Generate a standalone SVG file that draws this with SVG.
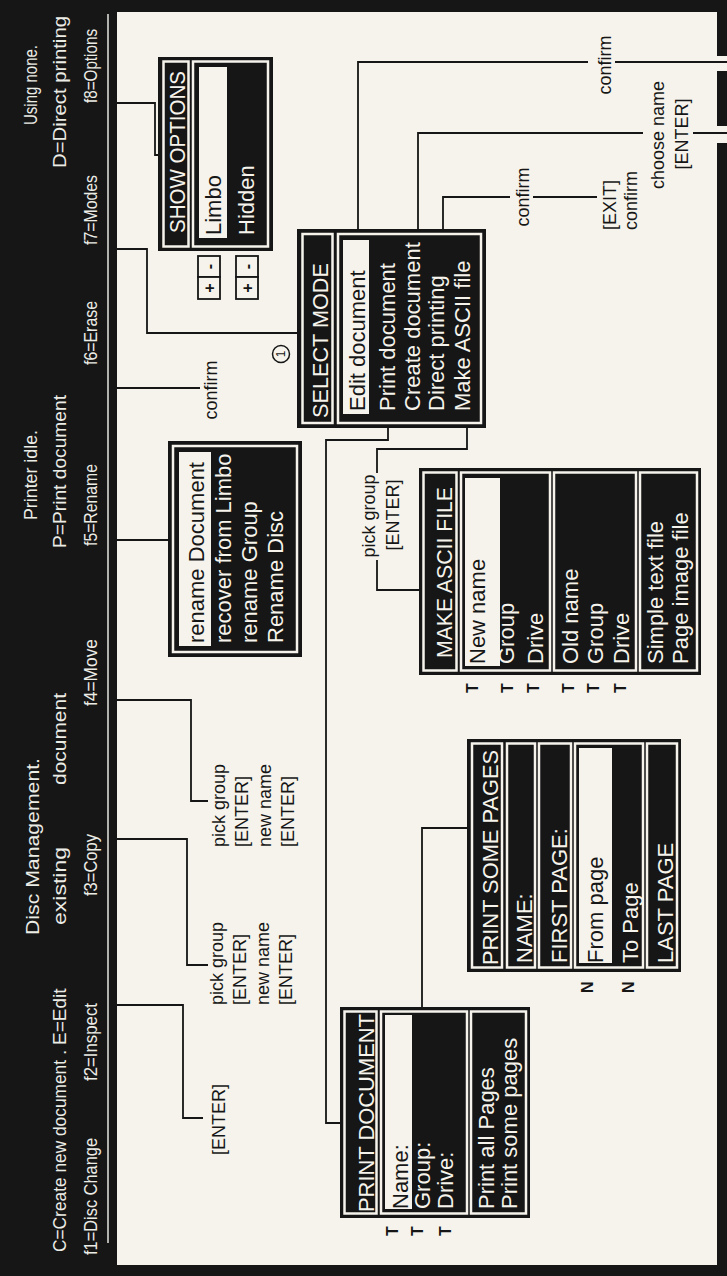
<svg xmlns="http://www.w3.org/2000/svg" width="727" height="1276" viewBox="0 0 727 1276">
<style>
.bg{fill:#161616}
.paper{fill:#f5f3eb}
.hd{font-family:"Liberation Sans",Arial,sans-serif;font-size:19px;fill:#ecece6}
.box{fill:#161616}
.frm{fill:none;stroke:#f5f3eb;stroke-width:2.5}
.hl{fill:#f5f3eb}
.tw{font-family:"Liberation Sans",Arial,sans-serif;font-size:22px;fill:#f5f3eb}
.tb{font-family:"Liberation Sans",Arial,sans-serif;font-size:22px;fill:#161616}
.lb{font-family:"Liberation Sans",Arial,sans-serif;font-size:18px;fill:#161616}
.mk{font-family:"Liberation Sans",Arial,sans-serif;font-size:16px;font-weight:bold;fill:#161616}
.pm{fill:#f5f3eb;stroke:#161616;stroke-width:1.8}
.pmt{font-family:"Liberation Sans",Arial,sans-serif;font-size:16px;font-weight:bold;fill:#161616}
.ln{fill:none;stroke:#161616;stroke-width:1.8}
</style>
<rect class="bg" width="727" height="1276"/>
<rect class="paper" x="117" y="12" width="600" height="1253"/>
<rect class="paper" x="716" y="56" width="11" height="15"/>
<rect class="paper" x="716" y="126" width="11" height="17"/>
<line x1="108" y1="14" x2="108" y2="1243" stroke="#e6e6e0" stroke-width="1.5"/>

<g id="header">
<text class="hd" transform="translate(37 125) rotate(-90)" textLength="80" lengthAdjust="spacingAndGlyphs">Using none.</text>
<text class="hd" transform="translate(37 520) rotate(-90)" textLength="90" lengthAdjust="spacingAndGlyphs">Printer idle.</text>
<text class="hd" transform="translate(39 935) rotate(-90)" textLength="177" lengthAdjust="spacingAndGlyphs">Disc Management.</text>
<text class="hd" transform="translate(66 168) rotate(-90)" textLength="152" lengthAdjust="spacingAndGlyphs">D=Direct printing</text>
<text class="hd" transform="translate(66 548) rotate(-90)" textLength="153" lengthAdjust="spacingAndGlyphs">P=Print document</text>
<text class="hd" transform="translate(66 1055) rotate(-90)">.</text>
<text class="hd" transform="translate(66 1045) rotate(-90)">E=Edit</text>
<text class="hd" transform="translate(66 925) rotate(-90)" textLength="78" lengthAdjust="spacingAndGlyphs">existing</text>
<text class="hd" transform="translate(66 785) rotate(-90)" textLength="92" lengthAdjust="spacingAndGlyphs">document</text>
<text class="hd" transform="translate(66 1252) rotate(-90)" textLength="192" lengthAdjust="spacingAndGlyphs">C=Create new document</text>
<text class="hd" transform="translate(97 103) rotate(-90)" textLength="74" lengthAdjust="spacingAndGlyphs">f8=Options</text>
<text class="hd" transform="translate(97 245) rotate(-90)" textLength="70" lengthAdjust="spacingAndGlyphs">f7=Modes</text>
<text class="hd" transform="translate(97 365) rotate(-90)" textLength="64" lengthAdjust="spacingAndGlyphs">f6=Erase</text>
<text class="hd" transform="translate(97 546) rotate(-90)" textLength="82" lengthAdjust="spacingAndGlyphs">f5=Rename</text>
<text class="hd" transform="translate(97 706) rotate(-90)" textLength="67" lengthAdjust="spacingAndGlyphs">f4=Move</text>
<text class="hd" transform="translate(97 896) rotate(-90)" textLength="62" lengthAdjust="spacingAndGlyphs">f3=Copy</text>
<text class="hd" transform="translate(97 1081) rotate(-90)" textLength="78" lengthAdjust="spacingAndGlyphs">f2=Inspect</text>
<text class="hd" transform="translate(97 1255) rotate(-90)" textLength="117" lengthAdjust="spacingAndGlyphs">f1=Disc Change</text>
</g>

<g id="connectors">
<path class="ln" d="M117,103 H155 V155 H158"/>
<path class="ln" d="M117,249 H147 V333 H297"/>
<path class="ln" d="M117,388 H200"/>
<path class="ln" d="M117,540 H168"/>
<path class="ln" d="M117,700 H191 V801 H208"/>
<path class="ln" d="M117,839 H187 V965 H208"/>
<path class="ln" d="M117,1005 H183 V1118 H203"/>
<path class="ln" d="M358,229 V62 H588 M615,62 H727"/>
<path class="ln" d="M418,229 V133 H643 M693,133 H727"/>
<path class="ln" d="M443,229 V197 H510 M533,197 H597"/>
<path class="ln" d="M388,428 V440 H326 V1123 H340"/>
<path class="ln" d="M422,1007 V828 H467"/>
<path class="ln" d="M467,428 V449 H377 V473 M377,560 V590 H419"/>
<text class="lb" transform="translate(217 390) rotate(-90)" text-anchor="middle">confirm</text>
<text class="lb" transform="translate(225 847) rotate(-90)">pick group</text>
<text class="lb" transform="translate(248 847) rotate(-90)">[ENTER]</text>
<text class="lb" transform="translate(271 847) rotate(-90)">new name</text>
<text class="lb" transform="translate(294 847) rotate(-90)">[ENTER]</text>
<text class="lb" transform="translate(223 1005) rotate(-90)">pick group</text>
<text class="lb" transform="translate(246 1005) rotate(-90)">[ENTER]</text>
<text class="lb" transform="translate(269 1005) rotate(-90)">new name</text>
<text class="lb" transform="translate(292 1005) rotate(-90)">[ENTER]</text>
<text class="lb" transform="translate(225 1155) rotate(-90)">[ENTER]</text>
<text class="lb" transform="translate(611 65) rotate(-90)" text-anchor="middle">confirm</text>
<text class="lb" transform="translate(664 135) rotate(-90)" text-anchor="middle">choose name</text>
<text class="lb" transform="translate(688 134) rotate(-90)" text-anchor="middle">[ENTER]</text>
<text class="lb" transform="translate(529 197) rotate(-90)" text-anchor="middle">confirm</text>
<text class="lb" transform="translate(616 230) rotate(-90)">[EXIT]</text>
<text class="lb" transform="translate(637 230) rotate(-90)">confirm</text>
<text class="lb" transform="translate(375 516) rotate(-90)" text-anchor="middle">pick group</text>
<text class="lb" transform="translate(399 515) rotate(-90)" text-anchor="middle">[ENTER]</text>
</g>

<g id="show-options">
<rect class="box" x="158" y="57" width="115" height="194"/>
<rect class="frm" x="163.5" y="61.5" width="25" height="185"/>
<rect class="frm" x="193" y="61.5" width="75" height="185"/>
<rect class="hl" x="199" y="67" width="28" height="171"/>
<text class="tw" transform="translate(185 233) rotate(-90)" textLength="162" lengthAdjust="spacingAndGlyphs">SHOW OPTIONS</text>
<text class="tb" transform="translate(221 235) rotate(-90)">Limbo</text>
<text class="tw" transform="translate(254 235) rotate(-90)">Hidden</text>
</g>

<g id="limbo-toggle">
<rect class="pm" x="198" y="256" width="22" height="21"/>
<rect class="pm" x="198" y="277" width="22" height="22"/>
<text class="pmt" transform="translate(209 266.5) rotate(-90)" text-anchor="middle" dominant-baseline="central">-</text>
<text class="pmt" transform="translate(209 288) rotate(-90)" text-anchor="middle" dominant-baseline="central">+</text>
</g>
<g id="hidden-toggle">
<rect class="pm" x="236" y="256" width="22" height="21"/>
<rect class="pm" x="236" y="277" width="22" height="22"/>
<text class="pmt" transform="translate(247 266.5) rotate(-90)" text-anchor="middle" dominant-baseline="central">-</text>
<text class="pmt" transform="translate(247 288) rotate(-90)" text-anchor="middle" dominant-baseline="central">+</text>
</g>

<g id="marker-1">
<circle cx="281" cy="354" r="8.5" fill="none" stroke="#161616" stroke-width="1.5"/>
<text transform="translate(281 354) rotate(-90)" text-anchor="middle" dominant-baseline="central" font-family="Liberation Sans, Arial, sans-serif" font-size="12" fill="#161616">1</text>
</g>

<g id="select-mode">
<rect class="box" x="297" y="229" width="189" height="199"/>
<rect class="frm" x="302.5" y="234" width="30" height="189"/>
<rect class="frm" x="338" y="234" width="143" height="189"/>
<rect class="hl" x="343" y="240" width="26" height="174"/>
<text class="tw" transform="translate(328 418) rotate(-90)" textLength="155" lengthAdjust="spacingAndGlyphs">SELECT MODE</text>
<text class="tb" transform="translate(365 411) rotate(-90)">Edit document</text>
<text class="tw" transform="translate(395 411) rotate(-90)">Print document</text>
<text class="tw" transform="translate(420 411) rotate(-90)">Create document</text>
<text class="tw" transform="translate(444 411) rotate(-90)">Direct printing</text>
<text class="tw" transform="translate(470 411) rotate(-90)">Make ASCII file</text>
</g>

<g id="rename-menu">
<rect class="box" x="168" y="441" width="134" height="216"/>
<rect class="frm" x="173" y="446" width="124" height="206"/>
<rect class="hl" x="179" y="452" width="32" height="194"/>
<text class="tb" transform="translate(204 643) rotate(-90)">rename Document</text>
<text class="tw" transform="translate(231 643) rotate(-90)">recover from Limbo</text>
<text class="tw" transform="translate(257 643) rotate(-90)">rename Group</text>
<text class="tw" transform="translate(283 643) rotate(-90)">Rename Disc</text>
</g>

<g id="make-ascii-file">
<rect class="box" x="419" y="468" width="282" height="207"/>
<rect class="frm" x="423.5" y="472.5" width="33" height="198"/>
<rect class="frm" x="461" y="472.5" width="89" height="198"/>
<rect class="frm" x="554" y="472.5" width="82" height="198"/>
<rect class="frm" x="640" y="472.5" width="57" height="198"/>
<rect class="hl" x="465" y="478" width="35" height="188"/>
<text class="tw" transform="translate(452 658) rotate(-90)" textLength="171" lengthAdjust="spacingAndGlyphs">MAKE ASCII FILE</text>
<text class="tb" transform="translate(485 664) rotate(-90)">New name</text>
<text class="tw" transform="translate(514 664) rotate(-90)">Group</text>
<text class="tw" transform="translate(543 664) rotate(-90)">Drive</text>
<text class="tw" transform="translate(578 664) rotate(-90)">Old name</text>
<text class="tw" transform="translate(603 664) rotate(-90)">Group</text>
<text class="tw" transform="translate(629 664) rotate(-90)">Drive</text>
<text class="tw" transform="translate(663 664) rotate(-90)">Simple text file</text>
<text class="tw" transform="translate(688 664) rotate(-90)">Page image file</text>
<text class="mk" transform="translate(478 693) rotate(-90)">T</text>
<text class="mk" transform="translate(513 693) rotate(-90)">T</text>
<text class="mk" transform="translate(539 693) rotate(-90)">T</text>
<text class="mk" transform="translate(574 693) rotate(-90)">T</text>
<text class="mk" transform="translate(599 693) rotate(-90)">T</text>
<text class="mk" transform="translate(626 693) rotate(-90)">T</text>
</g>

<g id="print-some-pages">
<rect class="box" x="467" y="739" width="214" height="233"/>
<rect class="frm" x="472" y="743.5" width="30" height="224"/>
<rect class="frm" x="507" y="743.5" width="28" height="224"/>
<rect class="frm" x="539" y="743.5" width="32" height="224"/>
<rect class="frm" x="575" y="743.5" width="68" height="224"/>
<rect class="frm" x="647" y="743.5" width="30" height="224"/>
<rect class="hl" x="579" y="748" width="33" height="215"/>
<text class="tw" transform="translate(498 965) rotate(-90)" textLength="215" lengthAdjust="spacingAndGlyphs">PRINT SOME PAGES</text>
<text class="tw" transform="translate(532 963) rotate(-90)">NAME:</text>
<text class="tw" transform="translate(567 963) rotate(-90)">FIRST PAGE:</text>
<text class="tb" transform="translate(603 963) rotate(-90)">From page</text>
<text class="tw" transform="translate(638 963) rotate(-90)">To Page</text>
<text class="tw" transform="translate(673 963) rotate(-90)">LAST PAGE</text>
<text class="mk" transform="translate(593 993) rotate(-90)">N</text>
<text class="mk" transform="translate(634 993) rotate(-90)">N</text>
</g>

<g id="print-document">
<rect class="box" x="340" y="1007" width="190" height="211"/>
<rect class="frm" x="344.5" y="1011.5" width="32" height="202"/>
<rect class="frm" x="381" y="1011.5" width="86" height="202"/>
<rect class="frm" x="471" y="1011.5" width="55" height="202"/>
<rect class="hl" x="385" y="1015" width="27" height="194"/>
<text class="tw" transform="translate(374 1212) rotate(-90)" textLength="198" lengthAdjust="spacingAndGlyphs">PRINT DOCUMENT</text>
<text class="tb" transform="translate(408 1209) rotate(-90)">Name:</text>
<text class="tw" transform="translate(430 1209) rotate(-90)">Group:</text>
<text class="tw" transform="translate(453 1209) rotate(-90)">Drive:</text>
<text class="tw" transform="translate(494 1209) rotate(-90)">Print all Pages</text>
<text class="tw" transform="translate(517 1209) rotate(-90)">Print some pages</text>
<text class="mk" transform="translate(398 1236) rotate(-90)">T</text>
<text class="mk" transform="translate(423 1236) rotate(-90)">T</text>
<text class="mk" transform="translate(451 1236) rotate(-90)">T</text>
</g>
</svg>
